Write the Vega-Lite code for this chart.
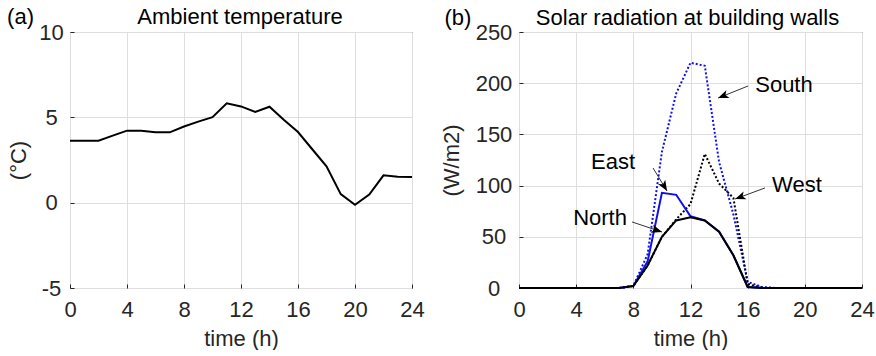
{
  "$schema": "https://vega.github.io/schema/vega-lite/v6.json",
  "background": "white",
  "padding": {"left": 6, "top": 5, "right": 0, "bottom": 0},
  "config": {
    "font": "Liberation Sans",
    "view": {"stroke": "#262626", "strokeWidth": 1},
    "axis": {
      "labelFont": "Liberation Sans", "labelFontSize": 22, "labelColor": "#262626",
      "titleFont": "Liberation Sans", "titleFontSize": 22, "titleFontWeight": "normal", "titleColor": "#262626",
      "gridColor": "#dedede", "gridOpacity": 1, "domain": false, "labelFlush": false, "labelOverlap": false,
      "ticks": true, "tickColor": "#262626", "tickSize": -4
    },
    "axisX": {"labelPadding": 15, "titlePadding": 8},
    "axisY": {"labelAlign": "center", "titlePadding": 13},
    "text": {"font": "Liberation Sans", "fontSize": 22, "color": "#000000"}
  },
  "datasets": {
    "temp": [
      {"t": 0, "c": 3.63}, {"t": 1, "c": 3.63}, {"t": 2, "c": 3.63}, {"t": 3, "c": 3.93}, {"t": 4, "c": 4.22},
      {"t": 5, "c": 4.22}, {"t": 6, "c": 4.12}, {"t": 7, "c": 4.12}, {"t": 8, "c": 4.46}, {"t": 9, "c": 4.75},
      {"t": 10, "c": 5.01}, {"t": 11, "c": 5.82}, {"t": 12, "c": 5.64}, {"t": 13, "c": 5.31}, {"t": 14, "c": 5.62},
      {"t": 15, "c": 4.86}, {"t": 16, "c": 4.14}, {"t": 17, "c": 3.13}, {"t": 18, "c": 2.13}, {"t": 19, "c": 0.5},
      {"t": 20, "c": -0.12}, {"t": 21, "c": 0.47}, {"t": 22, "c": 1.6}, {"t": 23, "c": 1.52}, {"t": 24, "c": 1.5}
    ],
    "rad": [
      {"t": 0, "north": 0, "east": 0, "south": 0, "west": 0},
      {"t": 1, "north": 0, "east": 0, "south": 0, "west": 0},
      {"t": 2, "north": 0, "east": 0, "south": 0, "west": 0},
      {"t": 3, "north": 0, "east": 0, "south": 0, "west": 0},
      {"t": 4, "north": 0, "east": 0, "south": 0, "west": 0},
      {"t": 5, "north": 0, "east": 0, "south": 0, "west": 0},
      {"t": 6, "north": 0, "east": 0, "south": 0, "west": 0},
      {"t": 7, "north": 0, "east": 0, "south": 0, "west": 0},
      {"t": 8, "north": 2, "east": 2, "south": 2, "west": 2},
      {"t": 9, "north": 22, "east": 26, "south": 33, "west": 22},
      {"t": 10, "north": 50, "east": 93, "south": 133, "west": 50},
      {"t": 11, "north": 66, "east": 91, "south": 190, "west": 67},
      {"t": 12, "north": 69, "east": 70, "south": 220, "west": 82},
      {"t": 13, "north": 66, "east": 66, "south": 217, "west": 131},
      {"t": 14, "north": 55, "east": 55, "south": 123, "west": 102},
      {"t": 15, "north": 32, "east": 32, "south": 72, "west": 88},
      {"t": 16, "north": 1, "east": 1, "south": 6, "west": 4},
      {"t": 17, "north": 0, "east": 0, "south": 1, "west": 0},
      {"t": 18, "north": 0, "east": 0, "south": 0, "west": 0},
      {"t": 19, "north": 0, "east": 0, "south": 0, "west": 0},
      {"t": 20, "north": 0, "east": 0, "south": 0, "west": 0},
      {"t": 21, "north": 0, "east": 0, "south": 0, "west": 0},
      {"t": 22, "north": 0, "east": 0, "south": 0, "west": 0},
      {"t": 23, "north": 0, "east": 0, "south": 0, "west": 0},
      {"t": 24, "north": 0, "east": 0, "south": 0, "west": 0}
    ],
    "notes": [
      {"label": "South", "tx": 18.54, "ty": 198.2, "x1": 16.03, "y1": 197.3, "x2": 13.93, "y2": 185.5, "dir": 248},
      {"label": "East", "tx": 6.58, "ty": 123, "x1": 9.38, "y1": 117.2, "x2": 10.36, "y2": 94.7, "dir": 149},
      {"label": "West", "tx": 19.45, "ty": 100.6, "x1": 17.21, "y1": 97.7, "x2": 15.12, "y2": 86.9, "dir": 250},
      {"label": "North", "tx": 5.67, "ty": 68.4, "x1": 7.91, "y1": 64.5, "x2": 10.01, "y2": 54.7, "dir": 108}
    ]
  },
  "spacing": 107,
  "bounds": "flush",
  "hconcat": [
    {
      "width": 342,
      "height": 256,
      "layer": [
        {
          "data": {"name": "temp"},
          "mark": {"type": "line", "color": "#000000", "strokeWidth": 2},
          "encoding": {
            "x": {"field": "t", "type": "quantitative", "scale": {"domain": [0, 24], "nice": false},
                  "axis": {"values": [0, 4, 8, 12, 16, 20, 24], "title": "time (h)", "grid": true}},
            "y": {"field": "c", "type": "quantitative", "scale": {"domain": [-5, 10], "nice": false},
                  "axis": {"values": [-5, 0, 5, 10], "labelExpr": "'' + datum.value", "title": "(°C)", "grid": true, "labelPadding": 23, "titlePadding": 8}}
          }
        },
        {
          "data": {"values": [
            {"label": "(a)", "t": -3.47, "c": 10.44},
            {"label": "Ambient temperature", "t": 11.93, "c": 10.44}
          ]},
          "mark": {"type": "text", "clip": false, "align": "center", "baseline": "alphabetic"},
          "encoding": {
            "x": {"field": "t", "type": "quantitative"},
            "y": {"field": "c", "type": "quantitative"},
            "text": {"field": "label"}
          }
        }
      ]
    },
    {
      "width": 343,
      "height": 256,
      "layer": [
        {
          "data": {"name": "rad"},
          "mark": {"type": "line", "color": "#1010e8", "strokeWidth": 2, "strokeDash": [2, 2]},
          "encoding": {
            "x": {"field": "t", "type": "quantitative", "scale": {"domain": [0, 24], "nice": false},
                  "axis": {"values": [0, 4, 8, 12, 16, 20, 24], "title": "time (h)", "grid": true}},
            "y": {"field": "south", "type": "quantitative", "scale": {"domain": [0, 250], "nice": false},
                  "axis": {"values": [0, 50, 100, 150, 200, 250], "title": "(W/m2)", "grid": true, "labelPadding": 29.5, "titlePadding": 12}}
          }
        },
        {
          "data": {"name": "rad"},
          "mark": {"type": "line", "color": "#000000", "strokeWidth": 2, "strokeDash": [2, 2]},
          "encoding": {
            "x": {"field": "t", "type": "quantitative"},
            "y": {"field": "west", "type": "quantitative"}
          }
        },
        {
          "data": {"name": "rad"},
          "mark": {"type": "line", "color": "#1010e8", "strokeWidth": 2},
          "encoding": {
            "x": {"field": "t", "type": "quantitative"},
            "y": {"field": "east", "type": "quantitative"}
          }
        },
        {
          "data": {"name": "rad"},
          "mark": {"type": "line", "color": "#000000", "strokeWidth": 2},
          "encoding": {
            "x": {"field": "t", "type": "quantitative"},
            "y": {"field": "north", "type": "quantitative"}
          }
        },
        {
          "data": {"name": "notes"},
          "mark": {"type": "rule", "color": "#333333", "strokeWidth": 1},
          "encoding": {
            "x": {"field": "x1", "type": "quantitative"},
            "y": {"field": "y1", "type": "quantitative"},
            "x2": {"field": "x2"},
            "y2": {"field": "y2"}
          }
        },
        {
          "data": {"name": "notes"},
          "mark": {"type": "point", "shape": "M0,0L0.4,1L0,0.75L-0.4,1Z", "filled": true, "color": "#000000", "opacity": 1, "size": 450},
          "encoding": {
            "x": {"field": "x2", "type": "quantitative"},
            "y": {"field": "y2", "type": "quantitative"},
            "angle": {"field": "dir", "type": "quantitative", "scale": null}
          }
        },
        {
          "data": {"name": "notes"},
          "mark": {"type": "text", "align": "center", "baseline": "middle"},
          "encoding": {
            "x": {"field": "tx", "type": "quantitative"},
            "y": {"field": "ty", "type": "quantitative"},
            "text": {"field": "label"}
          }
        },
        {
          "data": {"values": [
            {"label": "(b)", "t": -4.27, "v": 257.3},
            {"label": "Solar radiation at building walls", "t": 11.79, "v": 257.3}
          ]},
          "mark": {"type": "text", "clip": false, "align": "center", "baseline": "alphabetic"},
          "encoding": {
            "x": {"field": "t", "type": "quantitative"},
            "y": {"field": "v", "type": "quantitative"},
            "text": {"field": "label"}
          }
        }
      ]
    }
  ]
}
